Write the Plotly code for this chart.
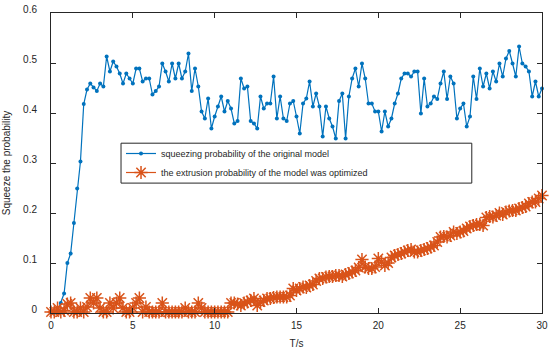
import numpy as np
import plotly.graph_objects as go

# time grid (s), sampled every 0.2 s
t = np.round(np.arange(0, 30.0001, 0.2), 1)

original_prob = [
    0.0, 0.0, 0.004, 0.020, 0.039, 0.100, 0.119, 0.180, 0.249, 0.303,
    0.418, 0.447, 0.459, 0.451, 0.444, 0.459, 0.453, 0.513, 0.483, 0.503,
    0.493, 0.479, 0.459, 0.479, 0.469, 0.459, 0.489, 0.489, 0.463, 0.469,
    0.469, 0.437, 0.444, 0.453, 0.499, 0.483, 0.463, 0.499, 0.469, 0.499,
    0.469, 0.483, 0.519, 0.444, 0.489, 0.453,
    0.403, 0.389, 0.429, 0.369, 0.393, 0.413, 0.433, 0.403, 0.424, 0.409,
    0.379, 0.384, 0.469, 0.449, 0.453, 0.384, 0.379, 0.369, 0.433, 0.409,
    0.419, 0.419, 0.473, 0.389, 0.433, 0.389, 0.384, 0.419, 0.424, 0.393,
    0.359, 0.419, 0.429, 0.463, 0.413, 0.439, 0.413, 0.353, 0.413, 0.389,
    0.373, 0.349, 0.424, 0.439, 0.349, 0.433, 0.469, 0.489, 0.453, 0.499,
    0.469, 0.419, 0.419, 0.403, 0.403,
    0.363, 0.403, 0.373, 0.389, 0.419, 0.439, 0.469, 0.479, 0.479, 0.473,
    0.483, 0.483, 0.399, 0.469, 0.413, 0.419, 0.433, 0.428, 0.459, 0.483,
    0.428, 0.473, 0.459, 0.389, 0.409, 0.419, 0.373, 0.393, 0.473, 0.428,
    0.489, 0.453, 0.479, 0.449, 0.483, 0.463, 0.499, 0.473, 0.509, 0.524,
    0.499, 0.473, 0.533, 0.499, 0.493, 0.483, 0.433, 0.463, 0.433, 0.449,
]

optimized_prob = [
    0.002, 0.002, 0.010, 0.002, 0.005, 0.018, 0.020, 0.002, 0.002, 0.010,
    0.002, 0.012, 0.030, 0.020, 0.030, 0.010, 0.002, 0.002, 0.020, 0.010,
    0.020, 0.030, 0.010, 0.002, 0.002, 0.010, 0.020, 0.030, 0.002, 0.012,
    0.002, 0.002, 0.002, 0.002, 0.020, 0.002, 0.002, 0.002, 0.002, 0.002,
    0.002, 0.010, 0.002, 0.002, 0.002, 0.020,
    0.010, 0.002, 0.002, 0.002, 0.002, 0.002, 0.002, 0.002, 0.002, 0.020,
    0.020, 0.018, 0.015, 0.020, 0.022, 0.025, 0.029, 0.015, 0.022, 0.025,
    0.029, 0.029, 0.031, 0.032, 0.032, 0.032, 0.032, 0.035, 0.049, 0.045,
    0.049, 0.052, 0.051, 0.055, 0.057, 0.064, 0.069, 0.069, 0.072, 0.073,
    0.073, 0.075, 0.075, 0.073, 0.077, 0.079, 0.082, 0.085, 0.091, 0.107,
    0.092, 0.089, 0.089, 0.092, 0.109,
    0.102, 0.095, 0.100, 0.111, 0.115, 0.117, 0.119, 0.122, 0.125, 0.127,
    0.122, 0.122, 0.125, 0.127, 0.129, 0.132, 0.135, 0.142, 0.152, 0.153,
    0.152, 0.155, 0.162, 0.159, 0.162, 0.164, 0.169, 0.173, 0.175, 0.177,
    0.177, 0.175, 0.191, 0.193, 0.192, 0.195, 0.200, 0.197, 0.202, 0.204,
    0.205, 0.205, 0.209, 0.211, 0.213, 0.219, 0.222, 0.222, 0.229, 0.235,
]

x_ticks = [0, 5, 10, 15, 20, 25, 30]
y_ticks = [0, 0.1, 0.2, 0.3, 0.4, 0.5, 0.6]
y_tick_labels = ["0", "0.1", "0.2", "0.3", "0.4", "0.5", "0.6"]

BLUE = "#0072BD"
ORANGE = "#D95319"
AXIS = "#262626"
FONT = "Liberation Sans, Arial, Helvetica, sans-serif"

fig = go.Figure()
fig.add_trace(go.Scatter(
    x=t, y=original_prob, mode="lines+markers",
    name="squeezing probability of the original model",
    line=dict(color=BLUE, width=1.2),
    marker=dict(color=BLUE, size=4, symbol="circle"),
    cliponaxis=False,
))
fig.add_trace(go.Scatter(
    x=t, y=optimized_prob, mode="lines+markers",
    name="the extrusion probability of the model was optimized",
    line=dict(color=ORANGE, width=1.2),
    marker=dict(symbol="asterisk-open", size=11,
                line=dict(color=ORANGE, width=1.5), color=ORANGE),
    cliponaxis=False,
))

# legend box
fig.add_shape(type="rect", xref="paper", yref="paper",
              x0=0.1426, x1=0.857, y0=0.433, y1=0.566,
              fillcolor="white", line=dict(color=AXIS, width=1), layer="above")

axis_common = dict(
    showgrid=False, zeroline=False, showline=True, linecolor=AXIS, linewidth=1,
    mirror="ticks", ticks="inside", ticklen=5, tickcolor=AXIS, tickwidth=1,
    tickfont=dict(family=FONT, size=10, color=AXIS), automargin=False,
)

fig.update_layout(
    width=550, height=350,
    margin=dict(l=51, r=8, t=13, b=37),
    paper_bgcolor="white", plot_bgcolor="white",
    font=dict(family=FONT, size=10, color=AXIS),
    showlegend=True,
    legend=dict(x=0.1426, y=0.58, xanchor="left", yanchor="top",
                bgcolor="rgba(0,0,0,0)", borderwidth=0,
                font=dict(family=FONT, size=9, color=AXIS),
                tracegroupgap=0),
    xaxis=dict(range=[0, 30], tickvals=x_ticks, ticklabelstandoff=3,
               title=dict(text="T/s", font=dict(family=FONT, size=10, color=AXIS), standoff=9),
               **axis_common),
    yaxis=dict(range=[0, 0.6], tickvals=y_ticks, ticktext=y_tick_labels,
               ticklabelstandoff=11, ticklabelshift=-4,
               title=dict(text="Squeeze the probability", font=dict(family=FONT, size=10, color=AXIS), standoff=10),
               **axis_common),
)

fig.write_html("out.html", config={"displayModeBar": False},
               post_script="document.body.style.margin='0';")
